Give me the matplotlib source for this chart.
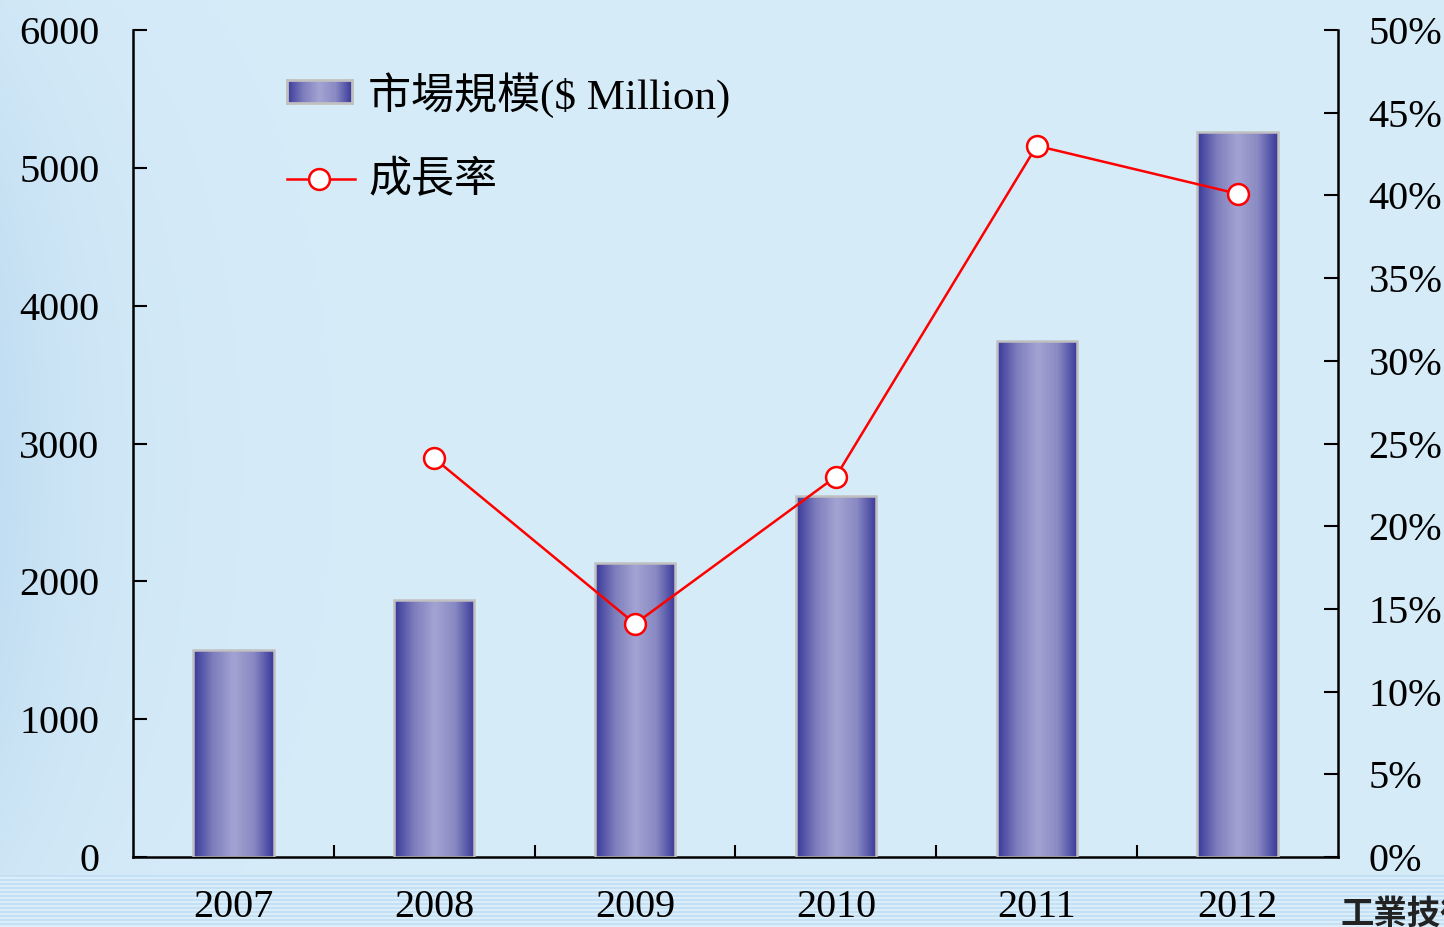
#!/usr/bin/env python3
"""
Market size (bars) and growth rate (line), 2007-2012
"""

import numpy as np
import matplotlib.pyplot as plt
from matplotlib.colors import LinearSegmentedColormap
from matplotlib.lines import Line2D

plt.rcParams['font.family'] = ['Liberation Serif', 'Noto Sans CJK TC']

years = ['2007', '2008', '2009', '2010', '2011', '2012']
market_size = [1500, 1865, 2135, 2620, 3745, 5260]          # $ Million
growth_pct = [np.nan, 24.1, 14.1, 23.0, 43.0, 40.1]          # %

left_ticks = [0, 1000, 2000, 3000, 4000, 5000, 6000]
right_ticks = [0, 5, 10, 15, 20, 25, 30, 35, 40, 45, 50]

bar_label = '市場規模($ Million)'
line_label = '成長率'

W, H = 1444, 927
fig = plt.figure(figsize=(W / 100, H / 100), dpi=100)

# ---- background: light blue, a bit darker on the left, striped strip at bottom
bg = fig.add_axes([0, 0, 1, 1], zorder=-10)
base = np.array([0.843, 0.925, 0.976])
dark = np.array([0.76, 0.87, 0.95])
xs = np.arange(W)
ys = np.arange(H)
wx = np.exp(-xs / 120.0)[None, :]
wy = (0.35 + 0.65 * np.sin(np.pi * ys / H))[:, None]
w = (wx * wy)[:, :, None]
img = base * (1 - w) + dark * w
strip_top = 875
for r in range(strip_top, H):
    img[r, :, :] = [0.77, 0.88, 0.96] if (r - strip_top) % 4 < 2 else [0.86, 0.93, 0.98]
bg.imshow(img, aspect='auto', extent=[0, 1, 0, 1], interpolation='nearest')
bg.set_axis_off()

# gradient for cylinder-like bars
bar_cmap = LinearSegmentedColormap.from_list(
    'bar', ['#38389a', '#7e7ebd', '#a3a3d3', '#8a8ac4', '#38389a'])
grad = np.linspace(0, 1, 256)[None, :]

ax = fig.add_axes([133 / W, (H - 857) / H, (1338 - 133) / W, (857 - 30) / H])
ax.patch.set_alpha(0)

x = np.arange(len(years))
bars = ax.bar(x, market_size, width=0.4, facecolor='none',
              edgecolor='#c0c0c0', linewidth=1.8, zorder=3)
for bar in bars:
    x0 = bar.get_x()
    im = ax.imshow(grad, cmap=bar_cmap, aspect='auto', zorder=2,
                   extent=[x0, x0 + bar.get_width(), 0, bar.get_height()])
    im.set_clip_path(bar)

ax.set_xlim(-0.5, len(years) - 0.5)
ax.set_ylim(0, 6000)
ax.set_yticks(left_ticks)
ax.set_xticks(x)
ax.set_xticklabels(years)
ax.set_xticks(np.arange(0.5, len(years) - 1, 1), minor=True)
ax.tick_params(axis='y', direction='in', length=10, width=1.5, pad=24,
               labelsize=29)
ax.tick_params(axis='x', which='major', length=0, pad=23, labelsize=29)
ax.tick_params(axis='x', which='minor', direction='in', length=9, width=1.5)
ax.spines['top'].set_visible(False)
ax.spines['right'].set_visible(False)
for s in ['left', 'bottom']:
    ax.spines[s].set_linewidth(1.8)

ax2 = ax.twinx()
ax2.plot(x, growth_pct, color='red', linewidth=1.8, marker='o',
         markersize=15, markerfacecolor='white', markeredgecolor='red',
         markeredgewidth=1.8, zorder=5)
ax2.set_ylim(0, 50)
ax2.set_yticks(right_ticks)
ax2.set_yticklabels([f'{v}%' for v in right_ticks])
ax2.tick_params(axis='y', direction='in', length=10, width=1.5, pad=22,
                labelsize=29)
for s in ['top', 'left', 'bottom']:
    ax2.spines[s].set_visible(False)
ax2.spines['right'].set_linewidth(1.8)

# ---- legend, drawn by hand so the swatch keeps the gradient
sw = fig.add_axes([287 / W, (H - 103) / H, 65 / W, 23 / H])
sw.imshow(grad, cmap=bar_cmap, aspect='auto')
sw.set_xticks([])
sw.set_yticks([])
for s in sw.spines.values():
    s.set_color('#c0c0c0')
    s.set_linewidth(2)
fig.text(368 / W, (H - 95) / H, bar_label, va='center', ha='left', fontsize=31)

ly = (H - 179) / H
fig.add_artist(Line2D([287 / W, 355 / W], [ly, ly], color='red', linewidth=1.8,
                      transform=fig.transFigure))
fig.add_artist(Line2D([319 / W], [ly], marker='o', markersize=15,
                      markerfacecolor='white', markeredgecolor='red',
                      markeredgewidth=1.8, transform=fig.transFigure))
fig.text(368 / W, (H - 181) / H, line_label, va='center', ha='left', fontsize=31)

# source text in the lower right corner (cut off by the edge, as in the original)
fig.text(1340 / W, (H - 898) / H, '工業技術研究院', va='top', ha='left',
         fontsize=24, fontweight='bold', color='#222222',
         family=['Noto Sans CJK TC'])

fig.savefig('out.png', dpi=100)
